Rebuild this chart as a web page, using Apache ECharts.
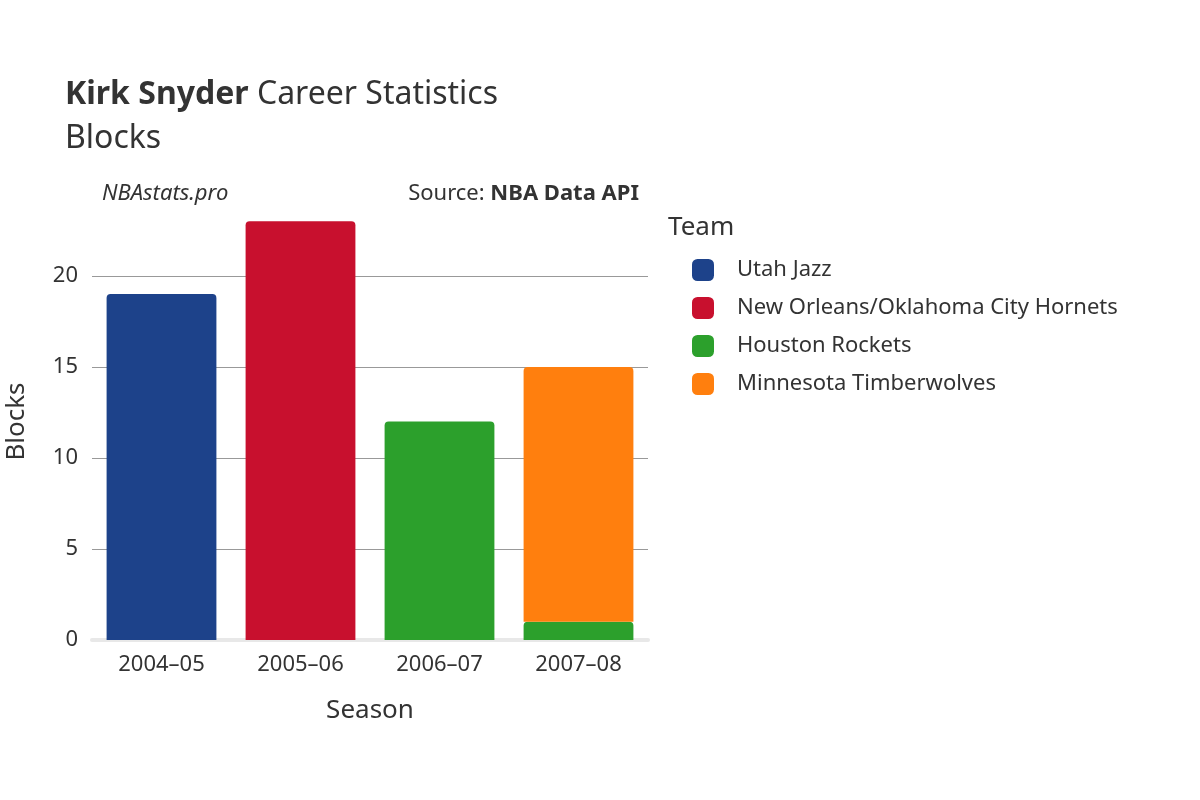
<!DOCTYPE html><html><head><meta charset="utf-8"><script src="https://cdn.jsdelivr.net/npm/echarts@6/dist/echarts.min.js"></script></head><body style="margin:0"><div id="c" style="width:1200px;height:800px"></div><script>
const seasons=['2004–05','2005–06','2006–07','2007–08'];
const utah=[19,null,null,null];
const hornets=[null,23,null,null];
const houston=[null,null,12,1];
const minnesota=[null,null,null,14];
const F='"Noto Sans","DejaVu Sans",sans-serif';
const ch=echarts.init(document.getElementById('c'));
const mk=(name,data,color)=>({name,type:'bar',stack:'s',data,barCategoryGap:'21%',itemStyle:{color,borderRadius:[4,4,0,0]}});
ch.setOption({
 animation:false,textStyle:{fontFamily:F},
 title:[{text:'{b|Kirk Snyder} Career Statistics\nBlocks',left:60,top:68,textStyle:{fontFamily:F,fontSize:32,color:'#333',fontWeight:'normal',lineHeight:44,rich:{b:{fontFamily:F,fontSize:32,fontWeight:'bold',color:'#333'}}}},
  {text:'NBAstats.pro',left:97,top:178,textStyle:{fontFamily:F,fontSize:22,fontStyle:'italic',fontWeight:'normal',color:'#333'}},
  {text:'Source: {b|NBA Data API}',right:556,top:178,textStyle:{fontFamily:F,fontSize:22,fontWeight:'normal',color:'#333',rich:{b:{fontFamily:F,fontSize:22,fontWeight:'bold',color:'#333'}}}},
  {text:'Team',left:663,top:210,textStyle:{fontFamily:F,fontSize:26,fontWeight:'normal',color:'#333'}}],
 legend:{orient:'vertical',left:687,top:254,itemWidth:22,itemHeight:22,itemGap:16,icon:'roundRect',textStyle:{fontFamily:F,fontSize:22,color:'#333',padding:[0,0,0,18]},data:['Utah Jazz','New Orleans/Oklahoma City Hornets','Houston Rockets','Minnesota Timberwolves']},
 grid:{left:92,right:552,top:203,bottom:160,containLabel:false},
 xAxis:{type:'category',data:seasons,name:'Season',nameLocation:'middle',nameGap:58,nameTextStyle:{fontSize:26,color:'#333'},axisTick:{show:false},axisLine:{lineStyle:{color:'#e8e8e8',width:4}},axisLabel:{fontSize:22,color:'#333',margin:14}},
 yAxis:{type:'value',min:0,max:24,interval:5,name:'Blocks',nameLocation:'middle',nameGap:62,nameTextStyle:{fontSize:26,color:'#333'},axisLabel:{fontSize:22,color:'#333',margin:14,showMaxLabel:false},splitLine:{showMaxLine:false,lineStyle:{color:'#999',width:1}}},
 series:[mk('Utah Jazz',utah,'#1d428a'),mk('New Orleans/Oklahoma City Hornets',hornets,'#c8102e'),mk('Houston Rockets',houston,'#2ca02c'),mk('Minnesota Timberwolves',minnesota,'#ff7f0e')]
});
</script></body></html>
